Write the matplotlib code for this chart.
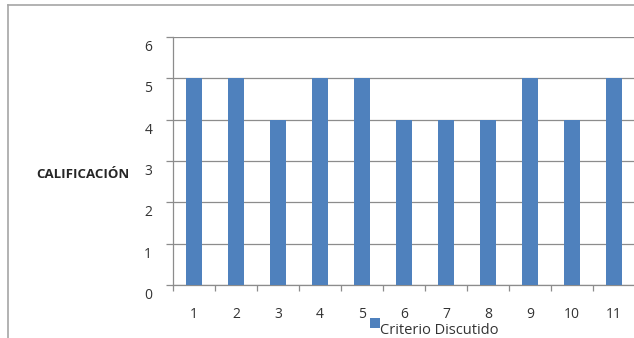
import matplotlib
matplotlib.use("Agg")
import matplotlib.pyplot as plt
import matplotlib.transforms as mtransforms
from matplotlib.patches import Rectangle
from matplotlib.lines import Line2D

categories = ["1", "2", "3", "4", "5", "6", "7", "8", "9", "10", "11"]
scores = [5, 5, 4, 5, 5, 4, 4, 4, 5, 4, 5]
y_ticks = [0, 1, 2, 3, 4, 5, 6]
series_name = "Criterio Discutido"
y_title = "CALIFICACIÓN"

W, H = 634, 338
fig = plt.figure(figsize=(W / 100, H / 100), dpi=100)
fig.patch.set_facecolor("white")
plt.rcParams["font.family"] = ["Open Sans", "DejaVu Sans"]

bar_color = "#4F81BD"
grid_color = "#8c8c8c"
text_color = "#333333"

# plot area in pixel coordinates
left_px, right_px = 173, 635
top_px, bottom_px = 37, 285
ax = fig.add_axes([left_px / W, 1 - bottom_px / H,
                   (right_px - left_px) / W, (bottom_px - top_px) / H])

x = list(range(len(categories)))
ax.bar(x, scores, width=0.38, color=bar_color, zorder=3)

ax.set_xlim(-0.5, len(categories) - 0.5)
ax.set_ylim(0, 6)
ax.set_yticks(y_ticks)
ax.set_yticklabels([str(v) for v in y_ticks], fontsize=10, color=text_color)
ax.yaxis.grid(True, color=grid_color, linewidth=0.9, zorder=0)
ax.set_axisbelow(True)

# category labels at centres, tick marks between categories
ax.set_xticks(x)
ax.set_xticklabels(categories, fontsize=10, color=text_color)
ax.tick_params(axis="x", length=0, pad=16)
ax.set_xticks([i - 0.5 for i in range(len(categories) + 1)], minor=True)
ax.tick_params(axis="x", which="minor", length=4, color=grid_color, width=0.9)
ax.tick_params(axis="y", length=5, color=grid_color, width=0.9, pad=10)

# value labels sit slightly below their gridlines
offset = mtransforms.ScaledTranslation(0, -6 / 72, fig.dpi_scale_trans)
for lbl in ax.get_yticklabels():
    lbl.set_transform(lbl.get_transform() + offset)

for side in ["top", "right"]:
    ax.spines[side].set_visible(False)
ax.spines["left"].set_color(grid_color)
ax.spines["bottom"].set_color(grid_color)
ax.spines["left"].set_linewidth(0.9)
ax.spines["bottom"].set_linewidth(0.9)

# axis title
fig.text(83 / W, 1 - 174 / H, y_title, fontsize=9.5, fontweight="bold",
         color="#262626", ha="center", va="center")

# legend
fig.patches.append(Rectangle((370 / W, 1 - 328 / H), 10 / W, 10 / H,
                             transform=fig.transFigure, facecolor=bar_color,
                             edgecolor="none"))
fig.text(380 / W, 1 - 331 / H, series_name, fontsize=10.5, color=text_color,
         ha="left", va="center")

# chart border
fig.add_artist(Line2D([8 / W, 1.0], [1 - 5 / H, 1 - 5 / H],
                      transform=fig.transFigure, color="#a6a6a6", linewidth=1.2))
fig.add_artist(Line2D([8 / W, 8 / W], [1 - 5 / H, 0],
                      transform=fig.transFigure, color="#a6a6a6", linewidth=1.2))

fig.savefig("out.png", dpi=100, facecolor="white")
